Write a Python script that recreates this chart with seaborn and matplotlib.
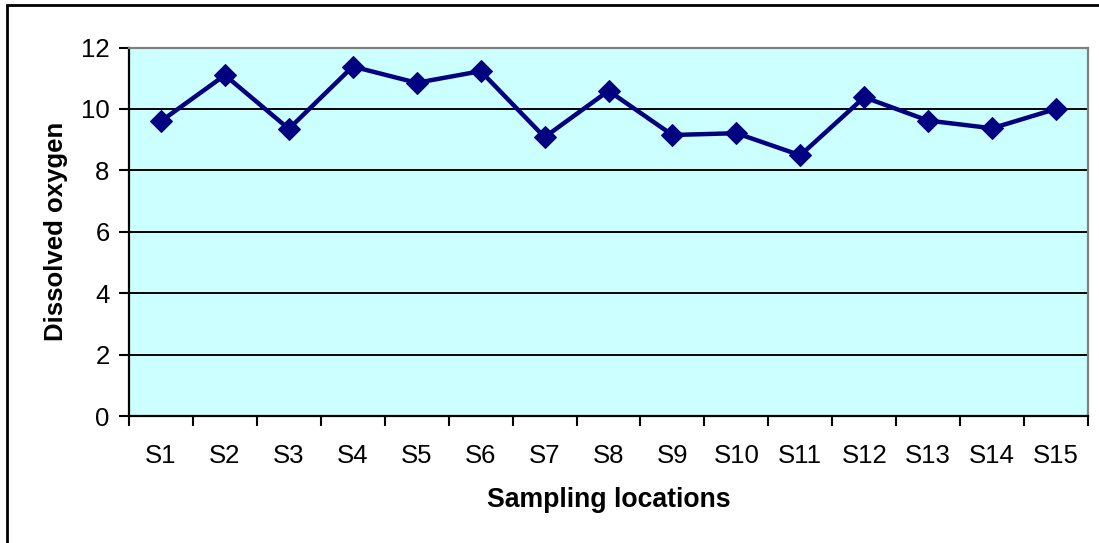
import matplotlib
matplotlib.use("Agg")
import matplotlib.pyplot as plt
from matplotlib.patches import Rectangle
import seaborn as sns
import pandas as pd

locations = ["S1", "S2", "S3", "S4", "S5", "S6", "S7", "S8",
             "S9", "S10", "S11", "S12", "S13", "S14", "S15"]
dissolved_oxygen = [9.6, 11.1, 9.35, 11.38, 10.85, 11.23, 9.08, 10.59,
                    9.15, 9.21, 8.49, 10.38, 9.62, 9.37, 10.0]
y_ticks = [0, 2, 4, 6, 8, 10, 12]

df = pd.DataFrame({"location": locations, "do": dissolved_oxygen})
df["pos"] = range(len(locations))

sns.set_style("white")
plt.rcParams["font.family"] = ["Liberation Sans", "DejaVu Sans"]
plt.rcParams["text.color"] = "black"
plt.rcParams["axes.labelcolor"] = "black"

W, H = 1099, 543
FS = 18.5
fig = plt.figure(figsize=(W / 100, H / 100), dpi=100)
ax = fig.add_axes([129 / W, 1 - 416 / H, (1088 - 129) / W, (416 - 47.5) / H])
ax.set_facecolor("#CCFFFF")

sns.lineplot(data=df, x="pos", y="do", ax=ax, color="#000080",
             linewidth=3.2, marker="D", markersize=11.5,
             markeredgecolor="#000080", markerfacecolor="#000080", zorder=3)

ax.set_xlim(-0.5, len(locations) - 0.5)
ax.set_ylim(0, 12)
ax.set_yticks(y_ticks)
ax.set_yticklabels([str(v) for v in y_ticks])
ax.set_xticks(range(len(locations)))
ax.set_xticklabels(locations)
ax.set_xticks([i - 0.5 for i in range(len(locations) + 1)], minor=True)

ax.tick_params(axis="x", which="major", length=0, pad=20, labelsize=FS,
               colors="black")
ax.tick_params(axis="x", which="minor", length=7, width=1.5, direction="out",
               color="black", bottom=True)
ax.tick_params(axis="y", which="major", length=7, width=1.5, direction="out",
               pad=7, labelsize=FS, colors="black", left=True)

ax.grid(False)
for v in y_ticks[1:-1]:
    ax.axhline(v, color="black", linewidth=1.4, zorder=1)

for side in ("left", "bottom"):
    ax.spines[side].set_color("black")
    ax.spines[side].set_linewidth(1.6)
for side in ("top", "right"):
    ax.spines[side].set_color("#808080")
    ax.spines[side].set_linewidth(1.6)

ax.set_xlabel("Sampling locations", fontsize=19.2, fontweight="bold",
              labelpad=14, color="black")
ax.set_ylabel("Dissolved oxygen", fontsize=FS, fontweight="bold",
              labelpad=9, color="black")

fig.patches.append(Rectangle((7 / W, -0.1), 1.2, 1 - 5 / H + 0.1,
                             transform=fig.transFigure, fill=False,
                             edgecolor="black", linewidth=2))

fig.savefig("out.png", dpi=100)
